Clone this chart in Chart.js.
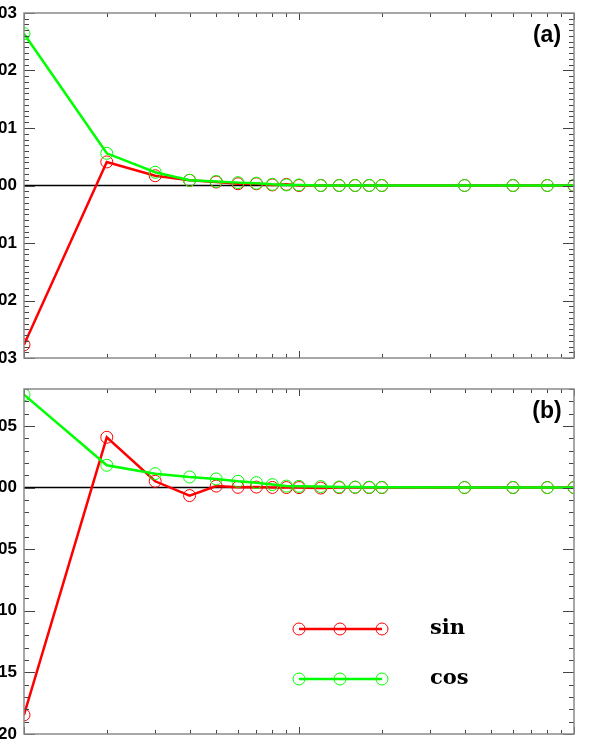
<!DOCTYPE html>
<html>
<head>
<meta charset="utf-8">
<script src="https://cdn.jsdelivr.net/npm/chart.js@4.4.1/dist/chart.umd.min.js"></script>
<style>
  body { margin: 0; background: #fff; overflow: hidden; }
  .panel { position: absolute; left: 0; }
  #panelA { top: 0; }
  #panelB { top: 372px; }
</style>
</head>
<body>
<div class="panel" id="panelA"><canvas id="chartA" width="598" height="372"></canvas></div>
<div class="panel" id="panelB"><canvas id="chartB" width="598" height="378"></canvas></div>
<script>
// sample positions (log x axis)
const xValues = [1, 2, 3, 4, 5, 6, 7, 8, 9, 10, 12, 14, 16, 18, 20, 40, 60, 80, 100];

// panel (a)
const sinA = [-0.0277, 0.0041, 0.0017, 0.0009, 0.0006, 0.0003, 0.0003, 0.0001, 0.0002, 0.0000,
              0.0000, 0.0000, 0.0000, 0.0000, 0.0000, 0.0000, 0.0000, 0.0000, 0.0000];
const cosA = [0.0264, 0.0056, 0.0023, 0.0009, 0.0007, 0.0005, 0.0004, 0.0002, 0.0001, 0.0001,
              0.0000, 0.0000, 0.0000, 0.0000, 0.0000, 0.0000, 0.0000, 0.0000, 0.0000];

// panel (b)
const sinB = [-0.1845, 0.0408, 0.0051, -0.0065, 0.0012, 0.0002, 0.0004, 0.0001, 0.0000, 0.0000,
              -0.0004, 0.0000, 0.0002, 0.0000, 0.0000, 0.0000, 0.0000, 0.0000, 0.0000];
const cosB = [0.0754, 0.0181, 0.0113, 0.0086, 0.0070, 0.0051, 0.0040, 0.0024, 0.0012, 0.0010,
              0.0008, 0.0005, 0.0004, 0.0003, 0.0002, 0.0001, 0.0001, 0.0000, 0.0000];

const xTickLabels = [1, 10, 100];
const panelNames = ['(a)', '(b)'];
const seriesNames = ['sin', 'cos'];

const RED = '#ff0000';
const GREEN = '#00ff00';

Chart.defaults.font.family = "'Liberation Sans', Arial, sans-serif";
Chart.defaults.font.weight = 'bold';
Chart.defaults.font.size = 17;
Chart.defaults.color = '#000';

function series(values, name, color, order) {
    return {
        label: name,
        data: xValues.map((x, i) => ({ x: x, y: values[i] })),
        borderColor: color,
        borderWidth: 2.5,
        pointRadius: 6,
        pointBorderWidth: 1,
        pointBorderColor: color,
        pointBackgroundColor: 'rgba(0,0,0,0)',
        tension: 0,
        order: order
    };
}

function isMultiple(v, step) {
    return Math.abs(v / step - Math.round(v / step)) < 1e-6;
}

function noPadding(s) {
    s.paddingTop = 0;
    s.paddingBottom = 0;
    s.paddingLeft = 0;
    s.paddingRight = 0;
}

// frame, inward ticks, zero line, panel label and optional legend
const framePlugin = {
    id: 'frame',
    beforeDatasetsDraw(chart) {
        const ctx = chart.ctx;
        const a = chart.chartArea;
        const y0 = chart.scales.y.getPixelForValue(0);
        ctx.save();
        ctx.strokeStyle = '#000';
        ctx.lineWidth = 1.5;
        ctx.beginPath();
        ctx.moveTo(a.left, y0);
        ctx.lineTo(a.right, y0);
        ctx.stroke();
        ctx.restore();
    },
    afterDraw(chart, args, opts) {
        const ctx = chart.ctx;
        const a = chart.chartArea;
        const xs = chart.scales.x;
        const ys = chart.scales.y;
        ctx.save();

        // ticks
        ctx.strokeStyle = '#444';
        ctx.lineWidth = 1;
        ctx.beginPath();
        for (let d = 1; d <= 100; d *= 10) {
            for (let k = 1; k <= 9; k++) {
                const v = k * d;
                if (v > 100) break;
                const px = Math.round(xs.getPixelForValue(v)) + 0.5;
                const len = k === 1 ? 7 : 4;
                ctx.moveTo(px, a.bottom); ctx.lineTo(px, a.bottom - len);
                ctx.moveTo(px, a.top); ctx.lineTo(px, a.top + len);
            }
        }
        const n = Math.round((ys.max - ys.min) / opts.yMinor);
        for (let i = 0; i <= n; i++) {
            const v = ys.min + i * opts.yMinor;
            const py = Math.round(ys.getPixelForValue(v)) + 0.5;
            const len = isMultiple(v, opts.yMajor) ? 11 : 5;
            ctx.moveTo(a.left, py); ctx.lineTo(a.left + len, py);
            ctx.moveTo(a.right, py); ctx.lineTo(a.right - len, py);
        }
        ctx.stroke();

        // frame
        ctx.strokeStyle = '#8a8a8a';
        ctx.lineWidth = 1.5;
        ctx.strokeRect(a.left, a.top, a.right - a.left, a.bottom - a.top);

        // panel label
        ctx.fillStyle = '#000';
        ctx.font = "bold 23px 'Liberation Sans', Arial, sans-serif";
        ctx.textAlign = 'center';
        ctx.textBaseline = 'middle';
        ctx.fillText(opts.label, 547, a.top + 23);

        // legend
        if (opts.legend) {
            const colors = [RED, GREEN];
            const rows = [257, 307];
            seriesNames.forEach((name, i) => {
                const y = rows[i];
                ctx.strokeStyle = colors[i];
                ctx.lineWidth = 2.5;
                ctx.beginPath();
                ctx.moveTo(299, y); ctx.lineTo(382, y);
                ctx.stroke();
                ctx.lineWidth = 1;
                [299, 340, 382].forEach(cx => {
                    ctx.beginPath();
                    ctx.arc(cx, y, 6, 0, Math.PI * 2);
                    ctx.stroke();
                });
                ctx.fillStyle = '#000';
                ctx.font = "bold 21px 'DejaVu Serif', serif";
                ctx.textAlign = 'left';
                ctx.textBaseline = 'middle';
                ctx.fillText(name, 430, y);
            });
        }
        ctx.restore();
    }
};

function makeChart(id, sin, cos, yMin, yMax, yMajor, yMinor, label, bottomPanel, padding) {
    return new Chart(document.getElementById(id), {
        type: 'line',
        data: {
            datasets: [series(sin, 'sin', RED, 1), series(cos, 'cos', GREEN, 0)]
        },
        plugins: [framePlugin],
        options: {
            responsive: false,
            animation: false,
            layout: { padding: padding },
            plugins: {
                legend: { display: false },
                tooltip: { enabled: false },
                frame: { yMajor: yMajor, yMinor: yMinor, label: label, legend: bottomPanel }
            },
            scales: {
                x: {
                    type: 'logarithmic',
                    min: 1,
                    max: 100,
                    display: bottomPanel,
                    grid: { display: false, drawTicks: false },
                    border: { display: false },
                    ticks: {
                        autoSkip: false,
                        maxRotation: 0,
                        padding: 13,
                        callback: v => xTickLabels.includes(Math.round(v)) && Math.abs(v - Math.round(v)) < 1e-9 ? String(Math.round(v)) : ''
                    },
                    afterFit(s) {
                        s.height = s.options.display ? 16 : 0;
                        noPadding(s);
                    }
                },
                y: {
                    type: 'linear',
                    min: yMin,
                    max: yMax,
                    grid: { display: false, drawTicks: false },
                    border: { display: false },
                    ticks: {
                        stepSize: yMajor,
                        padding: 7,
                        callback: v => isMultiple(v, yMajor) ? v.toFixed(2) : ''
                    },
                    afterFit(s) { s.width = 24; noPadding(s); }
                }
            }
        }
    });
}

makeChart('chartA', sinA, cosA, -0.03, 0.03, 0.01, 0.001, panelNames[0], false,
          { top: 13, right: 24, bottom: 14, left: 0 });
makeChart('chartB', sinB, cosB, -0.20, 0.08, 0.05, 0.01, panelNames[1], true,
          { top: 17, right: 24, bottom: 0, left: 0 });
</script>
</body>
</html>
